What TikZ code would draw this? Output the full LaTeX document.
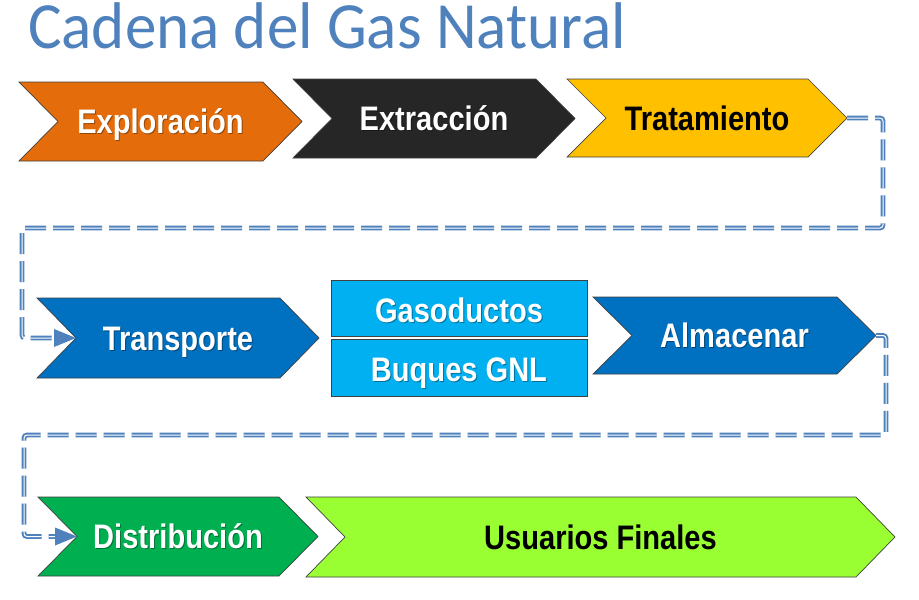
\documentclass[tikz,border=0pt]{standalone}
\usepackage{fontspec}
\setmainfont{Liberation Sans}
\newfontfamily\titlefont{Carlito}
\usetikzlibrary{arrows.meta}
\definecolor{cOrange}{RGB}{228,108,10}
\definecolor{cDark}{RGB}{38,38,38}
\definecolor{cGold}{RGB}{255,192,0}
\definecolor{cBlue}{RGB}{0,112,192}
\definecolor{cSky}{RGB}{0,176,240}
\definecolor{cGreen}{RGB}{0,176,80}
\definecolor{cLime}{RGB}{153,255,51}
\definecolor{cLine}{RGB}{79,129,189}
\definecolor{cTitle}{RGB}{79,129,189}
\tikzset{
  chevbox/.style={draw=black!75, line width=0.7pt, line join=miter},
  skybox/.style={draw=black!75, line width=0.7pt, fill=cSky, inner sep=0pt, minimum width=256pt},
  lbl/.style={anchor=base, inner sep=0pt, font=\fontsize{34}{34}\selectfont\bfseries},
  lblshadow/.style={lbl, text=black, opacity=0.35},
  conn/.style={draw=cLine, line width=1.9pt, double=white, double distance=1.0pt,
    dash pattern=on 21pt off 7pt, rounded corners=3pt, shorten >=21pt},
  connhead/.style={fill=cLine}
}
% name, left, top, right tip, bottom, fill
\newcommand{\mychev}[6]{%
  \draw[chevbox, fill=#6] (#2,#3) -- (#4-39,#3) -- (#4,{(#3+#5)/2}) -- (#4-39,#5) -- (#2,#5) -- (#2+39,{(#3+#5)/2}) -- cycle;
  \coordinate (#1-tip) at (#4,{(#3+#5)/2});
  \coordinate (#1-notch) at (#2+39,{(#3+#5)/2});
  \coordinate (#1-c) at ({(#2+#4)/2},{(#3+#5)/2});
}
\newcommand{\sq}[1]{\scalebox{0.855}[1]{#1}}
\begin{document}
\begin{tikzpicture}[x=1pt, y=-1pt]
\useasboundingbox (0,0) rectangle (919,600);
\fill[white] (0,0) rectangle (919,600);

% title
\node[anchor=base west, inner sep=0pt, text=cTitle, font=\titlefont\fontsize{66}{66}\selectfont] (title) at (28,48) {\scalebox{0.955}[1]{Cadena del Gas Natural}};

% chevrons
\mychev{explo}{19}{82}{302}{161}{cOrange}
\mychev{extra}{293}{79}{575}{158}{cDark}
\mychev{trat}{567}{79}{847}{157}{cGold}
\mychev{transp}{37}{298}{319}{378}{cBlue}
\mychev{alm}{593}{297}{876}{374}{cBlue}
\mychev{dist}{38}{497}{318}{576}{cGreen}
\mychev{usu}{306}{497}{895}{577}{cLime}

% boxes
\node[skybox, minimum height=56pt] (gas) at (459,308) {};
\node[skybox, minimum height=57pt] (buq) at (459,367.5) {};

% labels
\node[lblshadow] (explo-s) at ([xshift=1pt,yshift=-13pt]explo-c) {\sq{Exploración}};
\node[lbl, text=white] (explo-t) at ([yshift=-12pt]explo-c) {\sq{Exploración}};
\node[lblshadow] (extra-s) at ([xshift=1pt,yshift=-13pt]extra-c) {\sq{Extracción}};
\node[lbl, text=white] (extra-t) at ([yshift=-12pt]extra-c) {\sq{Extracción}};
\node[lbl, text=black] (trat-t) at ([yshift=-12pt]trat-c) {\sq{Tratamiento}};
\node[lblshadow] (transp-s) at ([xshift=1pt,yshift=-13pt]transp-c) {\sq{Transporte}};
\node[lbl, text=white] (transp-t) at ([yshift=-12pt]transp-c) {\sq{Transporte}};
\node[lblshadow] (gas-s) at ([xshift=1pt,yshift=-15pt]gas.center) {\sq{Gasoductos}};
\node[lbl, text=white] (gas-t) at ([yshift=-14pt]gas.center) {\sq{Gasoductos}};
\node[lblshadow] (buq-s) at ([xshift=1pt,yshift=-14.5pt]buq.center) {\sq{Buques GNL}};
\node[lbl, text=white] (buq-t) at ([yshift=-13.5pt]buq.center) {\sq{Buques GNL}};
\node[lblshadow] (alm-s) at ([xshift=1pt,yshift=-13pt]alm-c) {\sq{Almacenar}};
\node[lbl, text=white] (alm-t) at ([yshift=-12pt]alm-c) {\sq{Almacenar}};
\node[lblshadow] (dist-s) at ([xshift=1pt,yshift=-13pt]dist-c) {\sq{Distribución}};
\node[lbl, text=white] (dist-t) at ([yshift=-12pt]dist-c) {\sq{Distribución}};
\node[lbl, text=black] (usu-t) at ([yshift=-12pt]usu-c) {\sq{Usuarios Finales}};

% connectors
\coordinate (k1) at (883,228);
\coordinate (k2) at (22,228);
\draw[conn] (trat-tip) -| (k1) -- (k2) |- (transp-notch);
\fill[connhead] (transp-notch) -- ++(-22,-9) -- ++(0,18) -- cycle;

\coordinate (k3) at (886,435);
\coordinate (k4) at (24,435);
\draw[conn] (alm-tip) -| (k3) -- (k4) |- (dist-notch);
\fill[connhead] (dist-notch) -- ++(-22,-9) -- ++(0,18) -- cycle;
\end{tikzpicture}
\end{document}
